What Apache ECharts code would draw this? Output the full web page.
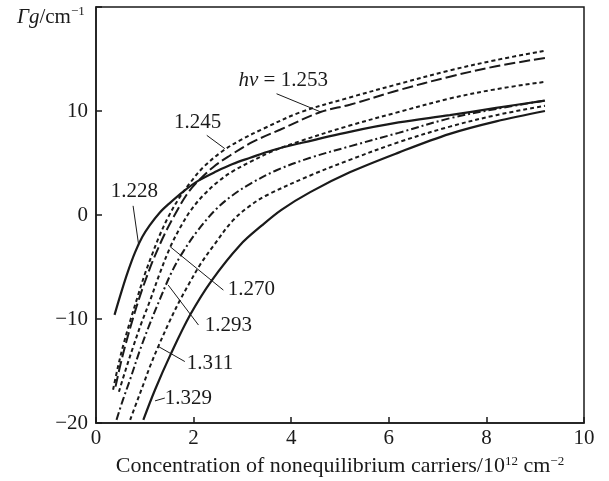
<!DOCTYPE html>
<html>
<head>
<meta charset="utf-8">
<script src="https://cdn.jsdelivr.net/npm/echarts@6/dist/echarts.min.js"></script>
<style>
  html, body { margin: 0; padding: 0; background: #fff; }
  #graph { width: 609px; height: 481px; }
</style>
</head>
<body>
<div id="graph"></div>
<script>
// axis ticks
var xTicks = [0, 2, 4, 6, 8, 10];
var yTicks = [-20, -10, 0, 10];

// curves, [carrier concentration, gain]
var curve1228 = [[0.38,-9.6],[0.5,-7.7],[0.65,-5.5],[0.8,-3.6],[0.95,-2.1],[1.1,-1.0],[1.3,0.2],[1.5,1.1],[1.8,2.3],[2.1,3.3],[2.47,4.2],[2.8,4.9],[3.16,5.5],[3.6,6.2],[4.18,6.9],[5.2,8.0],[6.2,8.9],[7.25,9.6],[8.2,10.3],[9.2,11.0]];
var curve1245 = [[0.35,-16.8],[0.45,-14.6],[0.56,-12.5],[0.7,-10.2],[0.85,-7.9],[1.0,-5.7],[1.15,-3.8],[1.3,-2.0],[1.48,-0.2],[1.7,1.6],[1.93,3.1],[2.2,4.6],[2.61,6.2],[3.0,7.3],[3.43,8.3],[4.2,9.9],[5.2,11.3],[6.2,12.6],[7.25,13.9],[8.2,14.9],[9.2,15.8]];
var curve1253 = [[0.4,-16.5],[0.5,-14.4],[0.62,-12.2],[0.76,-9.9],[0.9,-7.8],[1.05,-5.8],[1.2,-4.0],[1.4,-1.9],[1.6,-0.1],[1.85,1.9],[2.06,3.1],[2.4,4.6],[2.74,5.7],[3.2,7.0],[3.77,8.2],[4.6,9.9],[5.2,10.6],[6.2,12.0],[7.25,13.3],[8.2,14.3],[9.2,15.1]];
var curve1270 = [[0.47,-17.0],[0.6,-15.0],[0.76,-12.7],[0.93,-10.4],[1.11,-8.2],[1.3,-5.7],[1.52,-3.1],[1.75,-1.0],[1.95,0.5],[2.2,1.9],[2.5,3.2],[2.8,4.2],[3.16,5.1],[3.6,6.1],[4.18,7.1],[5.2,8.6],[6.2,9.9],[7.25,11.2],[8.2,12.1],[9.2,12.8]];
var curve1293 = [[0.42,-19.7],[0.55,-17.8],[0.7,-15.8],[0.9,-13.0],[1.1,-10.5],[1.31,-8.1],[1.55,-5.5],[1.79,-3.5],[2.1,-1.4],[2.47,0.6],[2.8,1.9],[3.16,3.0],[3.7,4.3],[4.39,5.5],[5.2,6.6],[6.2,7.9],[7.25,9.3],[8.2,10.2],[9.2,11.0]];
var curve1311 = [[0.7,-19.7],[0.85,-17.8],[0.97,-16.3],[1.12,-14.4],[1.28,-12.6],[1.5,-10.3],[1.72,-8.2],[1.92,-6.5],[2.13,-4.8],[2.4,-3.0],[2.81,-0.5],[3.16,0.9],[3.5,1.9],[4.39,3.8],[5.2,5.3],[6.2,7.0],[7.25,8.5],[8.2,9.6],[9.2,10.5]];
var curve1329 = [[0.97,-19.7],[1.21,-16.8],[1.52,-13.5],[1.93,-9.6],[2.37,-6.3],[2.95,-2.9],[3.4,-1.0],[3.8,0.5],[4.39,2.2],[5.2,4.1],[6.2,6.0],[7.25,7.8],[8.2,9.0],[9.2,10.0]];

// labels: text, where the text starts, where the pointer starts, where it ends on the curve
var notes = [
  { text: '{it|hv} = 1.253', at: [2.92, 12.9], from: [3.70, 11.66], to: [4.61, 9.9] },
  { text: '1.245', at: [1.60, 8.88], from: [2.27, 7.66], to: [2.64, 6.38] },
  { text: '1.228', at: [0.30, 2.26], from: [0.76, 0.88], to: [0.875, -2.9] },
  { text: '1.270', at: [2.70, -7.12], from: [2.61, -7.22], to: [1.52, -3.05] },
  { text: '1.293', at: [2.23, -10.58], from: [2.10, -10.58], to: [1.48, -6.74] },
  { text: '1.311', at: [1.86, -14.25], from: [1.82, -14.09], to: [1.28, -12.65] },
  { text: '1.329', at: [1.41, -17.6], from: [1.41, -17.6], to: [1.21, -17.87] }
];

var ink = '#1a1a1a';
var serif = '"Liberation Serif", "DejaVu Serif", serif';

function curve(name, data, dash, width) {
  return {
    name: name,
    type: 'line',
    data: data,
    smooth: 0.35,
    showSymbol: false,
    silent: true,
    lineStyle: { color: ink, width: width || 2, type: dash }
  };
}

var chart = echarts.init(document.getElementById('graph'));

var option = {
  animation: false,
  backgroundColor: '#fff',
  grid: {
    left: 96, right: 25, top: 7, bottom: 58,
    outerBoundsMode: 'none',
    show: true, borderColor: ink, borderWidth: 1.5
  },
  xAxis: {
    type: 'value',
    min: xTicks[0],
    max: xTicks[xTicks.length - 1],
    interval: 2,
    name: 'Concentration of nonequilibrium carriers/10{sup|12} cm{sup|\u22122}',
    nameLocation: 'middle',
    nameGap: 32,
    nameTextStyle: {
      color: ink, fontFamily: serif, fontSize: 22,
      rich: { sup: { fontSize: 13, fontFamily: serif, color: ink, verticalAlign: 'top' } }
    },
    axisLine: { onZero: false, lineStyle: { color: ink, width: 1.5 } },
    axisTick: { inside: true, length: 6, lineStyle: { color: ink, width: 1.5 } },
    axisLabel: { color: ink, fontFamily: serif, fontSize: 21, margin: 5 },
    splitLine: { show: false }
  },
  yAxis: {
    type: 'value',
    min: yTicks[0],
    max: 20,
    interval: 10,
    axisLine: { onZero: false, lineStyle: { color: ink, width: 1.5 } },
    axisTick: { inside: true, length: 6, lineStyle: { color: ink, width: 1.5 } },
    axisLabel: {
      color: ink, fontFamily: serif, fontSize: 21, margin: 8,
      formatter: function (v) {
        if (yTicks.indexOf(v) < 0) return '';
        return v < 0 ? '\u2212' + (-v) : String(v);
      }
    },
    splitLine: { show: false }
  },
  series: [
    curve('1.228', curve1228, 'solid', 2.2),
    curve('1.245', curve1245, [4, 3]),
    curve('1.253', curve1253, [11, 4]),
    curve('1.270', curve1270, [4, 3]),
    curve('1.293', curve1293, [8, 3, 2, 3]),
    curve('1.311', curve1311, [4, 3]),
    curve('1.329', curve1329, 'solid', 2.2)
  ]
};

chart.setOption(option);

// labels and pointer lines, placed through the grid's own scale
var graphics = [{
  type: 'text',
  left: 17,
  top: 5,
  style: {
    text: '{it|\u0393g}/cm{sup|\u22121}',
    fill: ink,
    font: '21px ' + serif,
    rich: {
      it: { fontStyle: 'italic', fontSize: 21, fontFamily: serif, lineHeight: 25 },
      sup: { fontSize: 13, fontFamily: serif, verticalAlign: 'top' }
    }
  }
}];

notes.forEach(function (n) {
  var a = chart.convertToPixel({ gridIndex: 0 }, n.at);
  var p1 = chart.convertToPixel({ gridIndex: 0 }, n.from);
  var p2 = chart.convertToPixel({ gridIndex: 0 }, n.to);
  graphics.push({
    type: 'line',
    silent: true,
    shape: { x1: p1[0], y1: p1[1], x2: p2[0], y2: p2[1] },
    style: { stroke: ink, lineWidth: 1 }
  });
  graphics.push({
    type: 'text',
    x: a[0],
    y: a[1],
    style: {
      text: n.text,
      fill: ink,
      font: '21px ' + serif,
      verticalAlign: 'middle',
      rich: { it: { fontStyle: 'italic', fontSize: 21, fontFamily: serif } }
    }
  });
});

chart.setOption({ graphic: graphics });
</script>
</body>
</html>
